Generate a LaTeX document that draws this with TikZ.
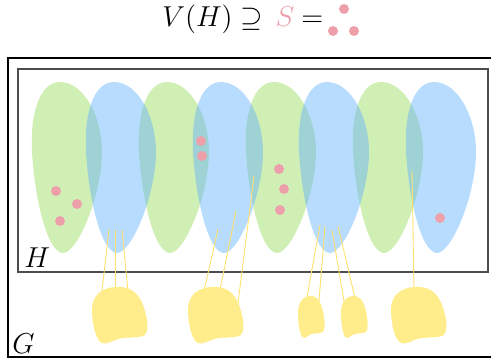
\documentclass[tikz,border=0pt]{standalone}
\usepackage{amsmath,amssymb}
\definecolor{lgreen}{RGB}{151,219,91}
\definecolor{lblue}{RGB}{97,177,253}
\definecolor{dotpink}{RGB}{238,160,170}
\definecolor{blobyellow}{RGB}{255,236,139}
\definecolor{linkyellow}{RGB}{255,226,110}
\newcommand\lobepath{(28,0) .. controls (52,0) and (70,35) .. (70,70) .. controls (70,112) and (46,171) .. (31,171) .. controls (16,171) and (3,120) .. (0,70) .. controls (-2,30) and (8,0) .. (28,0) -- cycle}
\newcommand\blobpath{(23,0) .. controls (38,-1) and (46,5) .. (51,18) .. controls (56,31) and (58,46) .. (51,49) .. controls (44,51) and (33,50) .. (26,52) .. controls (20,54) and (14,58) .. (10,56) .. controls (4,53) and (0,38) .. (0,23) .. controls (0,8) and (10,1) .. (23,0) -- cycle}
\tikzset{
  lobeG/.style={fill=lgreen, fill opacity=0.45},
  lobeB/.style={fill=lblue, fill opacity=0.45},
  blob/.style={fill=blobyellow},
  pdot/.style={circle, fill=dotpink, inner sep=0pt, minimum size=5pt},
  link/.style={draw=linkyellow, line width=0.45pt},
  boxG/.style={draw=black, line width=0.55pt},
  boxH/.style={draw=black!70, line width=0.75pt},
  lbl/.style={inner sep=0pt, anchor=base west, font=\fontsize{13.5}{16}\selectfont},
}
\begin{document}
\begin{tikzpicture}[x=0.5pt,y=-0.5pt]
\useasboundingbox (0,0) rectangle (491,358);
\clip (0,0) rectangle (491,358);
% title
\node[lbl] (vh) at (162,27) {$V(H)\supseteq$};
\node[lbl, text=dotpink] (s) at (275,27) {$S$};
\node[lbl] (eq) at (301,27) {$=$};
\node[pdot] (t1) at (344,9) {};
\node[pdot] (t2) at (333,31) {};
\node[pdot] (t3) at (354,31) {};
% boxes
\draw[boxG] (8,58) rectangle (500,357);
\draw[boxH] (18,69) rectangle (488,272);
\node[lbl] (hl) at (24,267) {$H$};
\node[lbl] (gl) at (12,353) {$G$};
% lobes
\foreach \x in {32,139,246,353} {\fill[lobeG, shift={(\x,82)}] \lobepath;}
\foreach \x in {86,193,299,406} {\fill[lobeB, shift={(\x,82)}] \lobepath;}
% pink dots in H
\foreach \p/\q [count=\i] in {56/191,77/204,60/221,201/141,202/156,279/169,284/189,280/210,440/218}
  {\node[pdot] (d\i) at (\p,\q) {};}
% link endpoints
\foreach \n/\ax/\ay/\bx/\by in {a/109/229/102/291, b/115/230/115/289, c/122/230/128/291,
  d/218/229/204/291, e/236/211/220/290, f/254/176/238/303,
  g/320/225/307/297, h/325/226/319/301, i/332/230/344/301, j/338/226/355/298,
  k/412/171/414/289}
  {\coordinate (\n1) at (\ax,\ay); \coordinate (\n2) at (\bx,\by);}
\foreach \n in {a,b,c,d,e,f,g,h,i,j,k} {\draw[link] (\n1) -- (\n2);}
% blobs
\fill[blob, shift={(92,287)}] \blobpath;
\fill[blob, shift={(188,287)}] \blobpath;
\fill[blob, shift={(391,287)}] \blobpath;
\fill[blob, shift={(298,296)}, xscale=0.48, yscale=0.74] \blobpath;
\fill[blob, shift={(341,296)}, xscale=0.48, yscale=0.74] \blobpath;
\end{tikzpicture}
\end{document}
